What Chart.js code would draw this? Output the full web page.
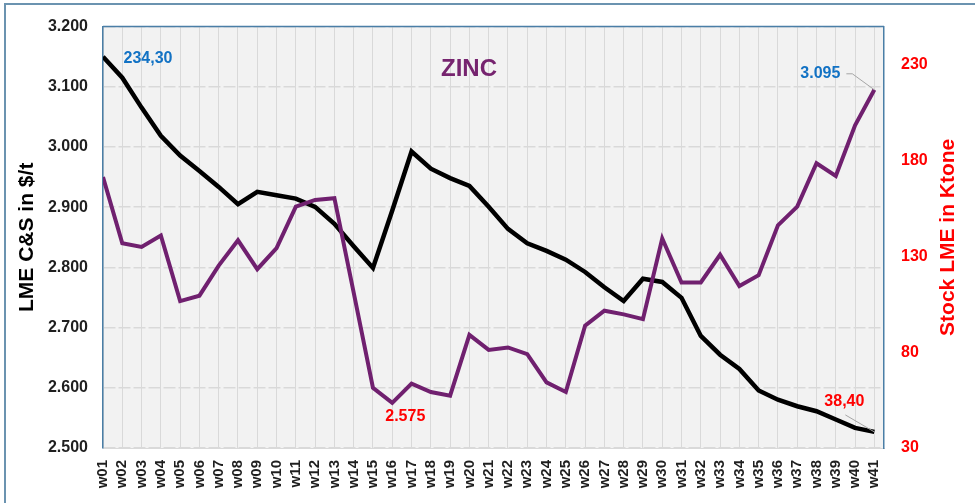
<!DOCTYPE html>
<html>
<head>
<meta charset="utf-8">
<script src="https://cdn.jsdelivr.net/npm/chart.js@4.4.1/dist/chart.umd.min.js"></script>
<style>
html,body{margin:0;padding:0;background:#fff;}
#wrap{width:975px;height:503px;position:relative;}
</style>
</head>
<body>
<div id="wrap"><canvas id="c" width="975" height="503"></canvas></div>
<script>
const weeks = ['w01','w02','w03','w04','w05','w06','w07','w08','w09','w10','w11','w12','w13','w14','w15','w16','w17','w18','w19','w20','w21','w22','w23','w24','w25','w26','w27','w28','w29','w30','w31','w32','w33','w34','w35','w36','w37','w38','w39','w40','w41'];
const zincPrice = [2950,2840,2834,2853,2744,2753,2803,2845,2797,2832,2901,2912,2915,2758,2600,2575,2607,2593,2587,2688,2663,2667,2656,2609,2593,2703,2728,2722,2714,2848,2775,2775,2821,2769,2787,2870,2901,2973,2952,3036,3095];
const lmeStock = [234.3,223.3,207.7,193,182.7,174.6,166.3,157.3,163.7,162,160.2,155.9,147,135.3,124,154,184.8,175.8,170.9,166.8,155.9,144.4,136.9,132.9,128.3,121.9,113.9,106.7,118.4,116.7,108.4,88.5,78.7,71.3,60,55.2,51.8,49.2,44.9,40.5,38.4];
const priceTicks = [2500,2600,2700,2800,2900,3000,3100,3200];
const stockTicks = [30,80,130,180,230];

const FONT = "'Liberation Sans', Arial, sans-serif";
const PURPLE = '#70206f';
const BLUE_BORDER = '#4a7ea6';
const fmtPrice = v => Math.floor(v/1000) + '.' + String(Math.round(v % 1000)).padStart(3,'0');
const fmtStock = v => v.toFixed(2).replace('.', ',');

const decor = {
  id: 'decor',
  beforeDraw(chart) {
    const {ctx, chartArea: a} = chart;
    ctx.save();
    ctx.fillStyle = '#f2f2f2';
    ctx.fillRect(a.left, a.top, a.right - a.left, a.bottom - a.top);
    ctx.strokeStyle = '#6b93b0';
    ctx.lineWidth = 2;
    ctx.beginPath();
    ctx.moveTo(5, 510); ctx.lineTo(5, 4); ctx.lineTo(980, 4);
    ctx.stroke();
    ctx.restore();
  },
  afterDraw(chart) {
    const {ctx, chartArea: a, scales} = chart;
    ctx.save();
    ctx.strokeStyle = BLUE_BORDER;
    ctx.lineWidth = 1.5;
    ctx.beginPath();
    ctx.moveTo(a.left, a.top); ctx.lineTo(a.right, a.top);
    ctx.stroke();
    ctx.font = 'bold 21px ' + FONT;
    ctx.textAlign = 'center';
    ctx.textBaseline = 'middle';
    const cy = (a.top + a.bottom) / 2;
    ctx.fillStyle = '#000';
    ctx.save(); ctx.translate(27, cy); ctx.rotate(-Math.PI/2); ctx.fillText('LME C&S in $/t', 0, 0); ctx.restore();
    ctx.fillStyle = '#ff0000';
    ctx.save(); ctx.translate(948, cy); ctx.rotate(-Math.PI/2); ctx.fillText('Stock LME in Ktone', 0, 0); ctx.restore();
    ctx.fillStyle = '#76246f';
    ctx.font = 'bold 24px ' + FONT;
    ctx.fillText('ZINC', 469, 69);
    const x = scales.x, y = scales.y, y1 = scales.y1;
    const last = weeks.length - 1;
    ctx.font = 'bold 16px ' + FONT;
    let px = x.getPixelForValue(0), py = y1.getPixelForValue(lmeStock[0]);
    ctx.fillStyle = '#1272c4';
    ctx.fillText(fmtStock(lmeStock[0]), px + 45, py + 2);
    px = x.getPixelForValue(last); py = y.getPixelForValue(zincPrice[last]);
    ctx.strokeStyle = '#a6a6a6'; ctx.lineWidth = 1;
    ctx.beginPath(); ctx.moveTo(px - 28, py - 16); ctx.lineTo(px - 22, py - 16); ctx.lineTo(px, py); ctx.stroke();
    ctx.fillText(fmtPrice(zincPrice[last]), px - 54, py - 16);
    let mi = 0;
    zincPrice.forEach((v, i) => { if (v < zincPrice[mi]) mi = i; });
    px = x.getPixelForValue(mi); py = y.getPixelForValue(zincPrice[mi]);
    ctx.fillStyle = '#ff0000';
    ctx.fillText(fmtPrice(zincPrice[mi]), px + 13, py + 14);
    px = x.getPixelForValue(last); py = y1.getPixelForValue(lmeStock[last]);
    ctx.strokeStyle = '#a6a6a6';
    ctx.beginPath(); ctx.moveTo(px - 29, py - 17); ctx.lineTo(px, py); ctx.stroke();
    ctx.fillText(fmtStock(lmeStock[last]), px - 30, py - 30);
    ctx.restore();
  }
};

new Chart(document.getElementById('c'), {
  type: 'line',
  data: {
    datasets: [
      {
        label: 'LME C&S',
        data: zincPrice.map((v, i) => ({x: i, y: v})),
        yAxisID: 'y',
        borderColor: PURPLE,
        borderWidth: 4,
        pointRadius: 0,
        tension: 0,
        order: 0
      },
      {
        label: 'Stock LME',
        data: lmeStock.map((v, i) => ({x: i, y: v})),
        yAxisID: 'y1',
        borderColor: '#000000',
        borderWidth: 4.5,
        pointRadius: 0,
        tension: 0,
        order: 1
      }
    ]
  },
  options: {
    responsive: false,
    animation: false,
    devicePixelRatio: 1,
    layout: {padding: {top: 24, left: 0, right: 0, bottom: 0}},
    plugins: {legend: {display: false}, tooltip: {enabled: false}},
    scales: {
      x: {
        type: 'linear',
        min: 0,
        max: weeks.length - 0.5,
        afterBuildTicks: s => { s.ticks = weeks.map((_, i) => ({value: i})); },
        afterFit: s => { s.height = 55; },
        ticks: {
          autoSkip: false,
          minRotation: 90,
          maxRotation: 90,
          padding: 12,
          color: '#1f1f1f',
          font: {family: FONT, size: 15, weight: 'bold'},
          callback: v => weeks[v] !== undefined ? weeks[v] : ''
        },
        grid: {color: '#d9d9d9', lineWidth: 1, drawTicks: false},
        border: {display: true, color: '#d9d9d9', width: 1}
      },
      y: {
        position: 'left',
        min: 2500,
        max: 3200,
        afterBuildTicks: s => { s.ticks = priceTicks.map(v => ({value: v})); },
        afterFit: s => { s.width = 103; },
        ticks: {
          padding: 15,
          color: '#1f1f1f',
          font: {family: FONT, size: 16, weight: 'bold'},
          callback: v => fmtPrice(v)
        },
        grid: {color: '#d9d9d9', lineWidth: 1.5, drawTicks: false},
        border: {display: true, color: BLUE_BORDER, width: 1.5, dash: [12, 3]}
      },
      y1: {
        position: 'right',
        min: 30,
        max: 250,
        afterBuildTicks: s => { s.ticks = stockTicks.map(v => ({value: v})); },
        afterFit: s => { s.width = 91; },
        ticks: {
          padding: 17,
          color: '#ff0000',
          font: {family: FONT, size: 16, weight: 'bold'},
          callback: v => String(v)
        },
        grid: {drawOnChartArea: false, drawTicks: false},
        border: {display: true, color: BLUE_BORDER, width: 1.5}
      }
    }
  },
  plugins: [decor]
});
</script>
</body>
</html>
